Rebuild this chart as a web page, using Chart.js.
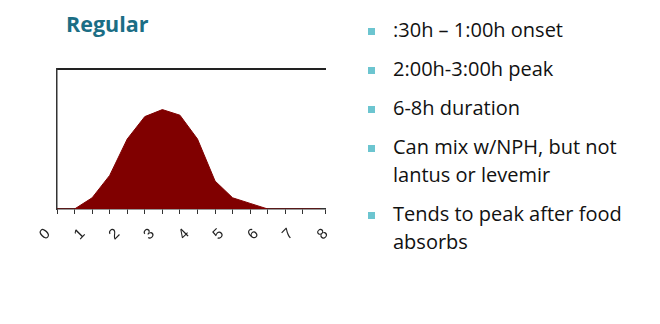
<!DOCTYPE html>
<html>
<head>
<meta charset="utf-8">
<script src="https://cdn.jsdelivr.net/npm/chart.js@4.4.1/dist/chart.umd.min.js"></script>
<style>
  html, body { margin: 0; padding: 0; background: #ffffff; }
  body { width: 660px; height: 324px; position: relative; overflow: hidden; font-family: "Open Sans", sans-serif; }
  #title { position: absolute; left: 66px; top: 9px; font: bold 21.5px "Open Sans", sans-serif; color: #1B6E85; }
  #wrap { position: absolute; left: 0; top: 0; width: 340px; height: 240px; }
  ul { position: absolute; left: 366px; top: 16px; margin: 0; padding: 0; list-style: none; width: 290px; }
  li { position: relative; padding-left: 27px; font-size: 20px; line-height: 28px; color: #111; margin-bottom: 11px; }
  li::before { content: ""; position: absolute; left: 2px; top: 12px; width: 7px; height: 7px; background: #6CC5D0; }
</style>
</head>
<body>
<div id="title">Regular</div>
<div id="wrap"><canvas id="c"></canvas></div>
<ul id="bullets"></ul>
<script>
// Hours after injection (every half hour) and relative insulin action
const hours = [0, 0.5, 1, 1.5, 2, 2.5, 3, 3.5, 4, 4.5, 5, 5.5, 6, 6.5, 7, 7.5];
const action = [0, 0, 8, 24, 50, 66, 71, 67, 50, 20, 8, 4, 0, 0, 0, 0];
const hourLabels = ['0', '1', '2', '3', '4', '5', '6', '7', '8'];
const titleText = 'Regular';
const bulletItems = [
  ':30h \u2013 1:00h onset',
  '2:00h-3:00h peak',
  '6-8h duration',
  'Can mix w/NPH, but not lantus or levemir',
  'Tends to peak after food absorbs'
];

document.getElementById('title').textContent = titleText;
const ul = document.getElementById('bullets');
bulletItems.forEach(t => { const li = document.createElement('li'); li.textContent = t; ul.appendChild(li); });

const points = hours.map((h, i) => ({ x: h, y: action[i] }));

new Chart(document.getElementById('c'), {
  type: 'line',
  data: {
    datasets: [{
      data: points,
      xAxisID: 'x',
      yAxisID: 'y',
      borderColor: '#800000',
      backgroundColor: '#800000',
      borderWidth: 1,
      pointRadius: 0,
      tension: 0,
      fill: 'origin'
    }]
  },
  options: {
    responsive: true,
    maintainAspectRatio: false,
    animation: false,
    events: [],
    layout: { padding: { left: 57, right: 15, top: 69, bottom: 0 } },
    plugins: { legend: { display: false }, tooltip: { enabled: false } },
    scales: {
      x: {
        type: 'linear',
        position: 'bottom',
        z: 1,
        min: 0,
        max: 7.63,
        ticks: { stepSize: 0.5, display: false },
        grid: { drawOnChartArea: false, drawTicks: true, tickLength: 5, color: '#333', lineWidth: 1 },
        border: { display: true, color: '#333', width: 1.5 },
        afterFit: (s) => { s.height = 5; s.paddingLeft = 0; s.paddingRight = 0; }
      },
      x2: {
        type: 'linear',
        position: 'bottom',
        min: 0,
        max: 7.72,
        afterBuildTicks: (scale) => { scale.ticks = hourLabels.map((l, i) => ({ value: i })); },
        afterFit: (s) => { s.height = 26; s.paddingLeft = 0; s.paddingRight = 0; },
        ticks: {
          autoSkip: false,
          minRotation: 45,
          maxRotation: 45,
          labelOffset: -9,
          padding: 11,
          color: '#222',
          font: { family: 'Liberation Sans', size: 15 },
          callback: (v, i) => hourLabels[i]
        },
        grid: { display: false, drawTicks: false },
        border: { display: false }
      },
      xTop: {
        type: 'linear',
        position: 'top',
        min: 0,
        max: 1,
        ticks: { display: false },
        grid: { display: false, drawTicks: false },
        border: { display: true, color: '#222', width: 2 },
        afterFit: (s) => { s.height = 0; s.paddingLeft = 0; s.paddingRight = 0; }
      },
      y: {
        z: 1,
        min: 0,
        max: 100,
        ticks: { display: false },
        grid: { display: false, drawTicks: false },
        border: { display: true, color: '#333', width: 1.5 },
        afterFit: (s) => { s.width = 0; }
      }
    }
  }
});
</script>
</body>
</html>
